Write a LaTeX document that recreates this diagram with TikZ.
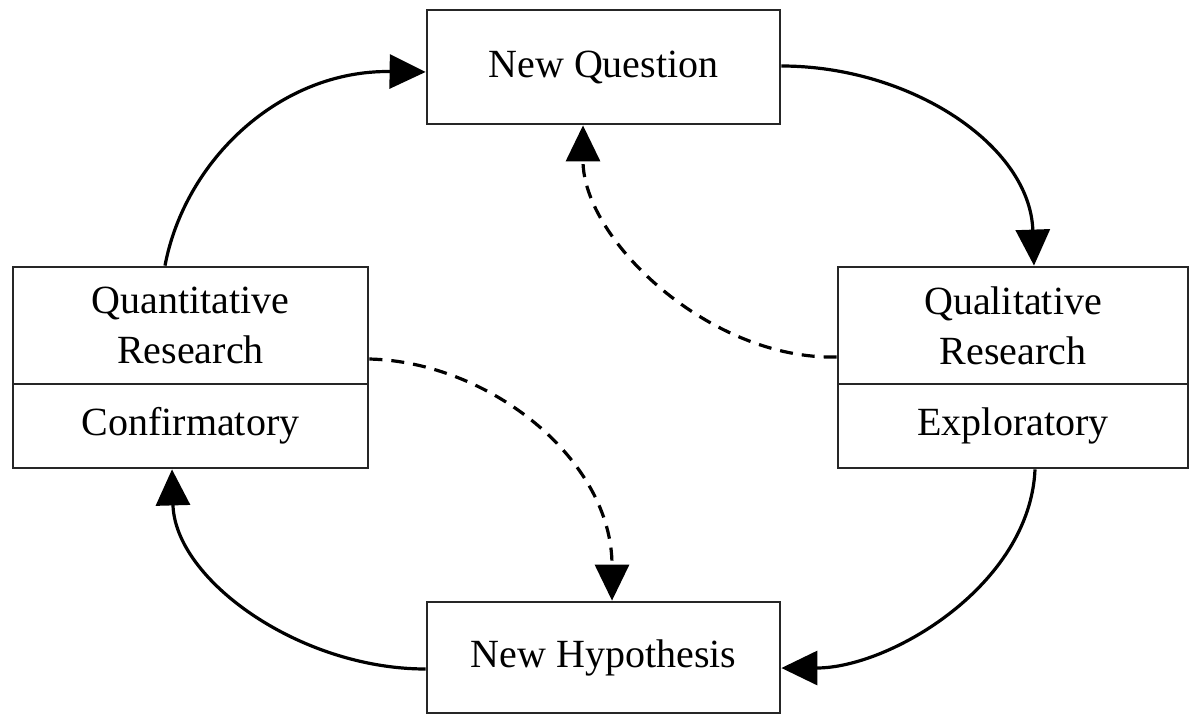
\documentclass[tikz,border=0pt]{standalone}
\usepackage{fontspec}
\setmainfont{Liberation Serif}
\usetikzlibrary{arrows.meta}
\begin{document}
\begin{tikzpicture}[x=1pt,y=-1pt,
  box/.style={draw=black!85, line width=2.8pt, fill=white, inner sep=0pt,
    align=center, font=\fontsize{40}{50}\selectfont},
  flow/.style={line width=3.2pt, -{Triangle[length=36pt,width=34pt]}},
  hint/.style={flow, dash pattern=on 13pt off 9pt}]
  \useasboundingbox (0,0) rectangle (1190,715);

  % stages of the research cycle
  \node[box, minimum width=353pt, minimum height=114pt] (nq) at (603.5,67) {New Question};
  \node[box, minimum width=353pt, minimum height=111pt] (nh) at (603.5,657.5) {New Hypothesis};
  \node[box, minimum width=355pt, minimum height=117pt] (quantTop) at (190.5,325.5) {Quantitative\\Research};
  \node[box, minimum width=355pt, minimum height=84pt] (quantBot) at (190.5,426) {Confirmatory};
  \node[box, minimum width=350pt, minimum height=117pt] (qualTop) at (1013,325.5) {Qualitative\\Research};
  \node[box, minimum width=350pt, minimum height=84pt] (qualBot) at (1013,426) {Exploratory};

  % main cycle
  \draw[flow] ([xshift=-25.5pt]quantTop.north) .. controls (185,160) and (280,70) .. ([yshift=-5pt]nq.west);
  \draw[flow] ([yshift=1pt]nq.east) .. controls (910,66) and (1030,145) .. ([xshift=21pt]qualTop.north);
  \draw[flow] ([xshift=22pt]qualBot.south) .. controls (1030,585) and (890,668) .. ([yshift=-10.5pt]nh.east);
  \draw[flow] ([yshift=-11.5pt]nh.west) .. controls (300,669) and (175,580) .. ([xshift=-18.5pt]quantBot.south);

  % shortcut paths
  \draw[hint] ([yshift=-31.5pt]qualTop.west) .. controls (710,360) and (583,240) .. ([xshift=-20.5pt]nq.south);
  \draw[hint] ([yshift=-33.5pt]quantTop.east) .. controls (490,362) and (612,460) .. ([xshift=8.5pt]nh.north);
\end{tikzpicture}
\end{document}
